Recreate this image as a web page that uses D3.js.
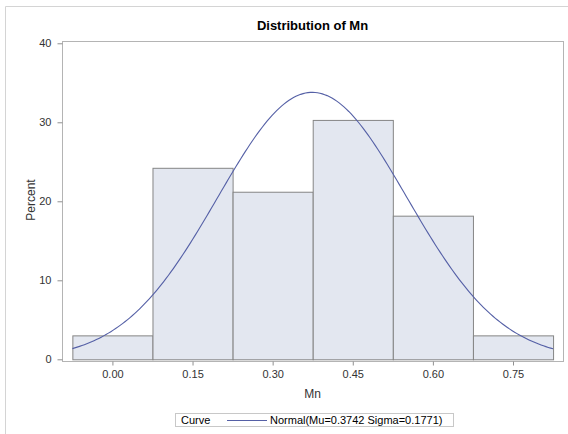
<!DOCTYPE html>
<html>
<head>
<meta charset="utf-8">
<script src="https://cdn.jsdelivr.net/npm/d3@7"></script>
<style>
  html, body { margin: 0; padding: 0; background: #fff; }
  svg { display: block; font-family: "Liberation Sans", Arial, sans-serif; }
</style>
</head>
<body>
<svg id="chart" width="568" height="434"></svg>
<script>
// ---- data ----
const binStarts = [-0.075, 0.075, 0.225, 0.375, 0.525, 0.675];
const binWidth = [0.15];
const percents = [3.03, 24.24, 21.21, 30.30, 18.18, 3.03];
const xTicks = [0.00, 0.15, 0.30, 0.45, 0.60, 0.75];
const yTicks = [0, 10, 20, 30, 40];
const normalMu = [0.3742];
const normalSigma = [0.1771];
const titleText = ["Distribution of Mn"];
const legendLabels = ["Curve", "Normal(Mu=0.3742 Sigma=0.1771)"];

// ---- layout ----
const svg = d3.select("#chart");
const L = 62, R = 563, T = 41, B = 361;

const x = d3.scaleLinear().domain([-0.0944, 0.8436]).range([L, R]);
const y = d3.scaleLinear().domain([-0.215, 40.29]).range([B, T]);

// outer border (top & left)
svg.append("path")
  .attr("d", "M5.5,434 L5.5,6.5 L568,6.5")
  .attr("fill", "none").attr("stroke", "#d4d4d4").attr("stroke-width", 1);

// title
svg.append("text")
  .attr("x", (L + R) / 2).attr("y", 30)
  .attr("text-anchor", "middle")
  .attr("font-size", 13).attr("font-weight", "bold").attr("fill", "#000")
  .text(titleText[0]);

// bars
svg.append("g").selectAll("rect")
  .data(percents)
  .join("rect")
  .attr("x", (d, i) => x(binStarts[i]) + 0.5)
  .attr("width", (d, i) => x(binStarts[i] + binWidth[0]) - x(binStarts[i]))
  .attr("y", d => y(d) + 0.5)
  .attr("height", d => y(0) - y(d))
  .attr("fill", "#e3e7f0")
  .attr("stroke", "#858585")
  .attr("stroke-width", 1);

// normal curve (fit from the stated parameters)
const mu = normalMu[0], sg = normalSigma[0];
const scaleF = binWidth[0] * 100;
const x0 = binStarts[0], x1 = binStarts[binStarts.length - 1] + binWidth[0];
const pts = d3.range(0, 201).map(k => {
  const v = x0 + (x1 - x0) * k / 200;
  const z = (v - mu) / sg;
  return [v, scaleF * Math.exp(-0.5 * z * z) / (sg * Math.sqrt(2 * Math.PI))];
});
svg.append("path")
  .datum(pts)
  .attr("fill", "none")
  .attr("stroke", "#5560a6")
  .attr("stroke-width", 1.1)
  .attr("d", d3.line().x(d => x(d[0])).y(d => y(d[1])));

// frame
svg.append("rect")
  .attr("x", L + 0.5).attr("y", T + 0.5)
  .attr("width", R - L).attr("height", B - T)
  .attr("fill", "none").attr("stroke", "#b4b4b4");

// y axis
const yAxis = svg.append("g")
  .attr("transform", `translate(${L + 0.5},0)`)
  .call(d3.axisLeft(y).tickValues(yTicks).tickFormat(d3.format("d")).tickSize(5).tickPadding(6).tickSizeOuter(0));
yAxis.select(".domain").remove();
yAxis.selectAll("line").attr("stroke", "#909090");
yAxis.selectAll("text").attr("font-size", 11).attr("fill", "#333").attr("font-family", "Liberation Sans, Arial, sans-serif");

// x axis
const xAxis = svg.append("g")
  .attr("transform", `translate(0,${B + 0.5})`)
  .call(d3.axisBottom(x).tickValues(xTicks).tickFormat(d3.format(".2f")).tickSize(4).tickPadding(5).tickSizeOuter(0));
xAxis.select(".domain").remove();
xAxis.selectAll("line").attr("stroke", "#909090");
xAxis.selectAll("text").attr("font-size", 11).attr("fill", "#333").attr("font-family", "Liberation Sans, Arial, sans-serif");

// axis labels
svg.append("text")
  .attr("transform", `translate(35,200) rotate(-90)`)
  .attr("text-anchor", "middle")
  .attr("font-size", 12).attr("fill", "#333")
  .text("Percent");
svg.append("text")
  .attr("x", (L + R) / 2).attr("y", 398)
  .attr("text-anchor", "middle")
  .attr("font-size", 12).attr("fill", "#333")
  .text("Mn");

// legend
const lg = svg.append("g");
lg.append("rect")
  .attr("x", 175.5).attr("y", 413.5).attr("width", 278).attr("height", 13)
  .attr("fill", "#fff").attr("stroke", "#c8c8c8");
lg.append("text").attr("x", 181).attr("y", 424)
  .attr("font-size", 11).attr("fill", "#000").text(legendLabels[0]);
lg.append("line")
  .attr("x1", 227).attr("x2", 267).attr("y1", 420.5).attr("y2", 420.5)
  .attr("stroke", "#5560a6").attr("stroke-width", 1.1);
lg.append("text").attr("x", 270).attr("y", 424)
  .attr("font-size", 11).attr("fill", "#000").text(legendLabels[1]);
</script>
</body>
</html>
